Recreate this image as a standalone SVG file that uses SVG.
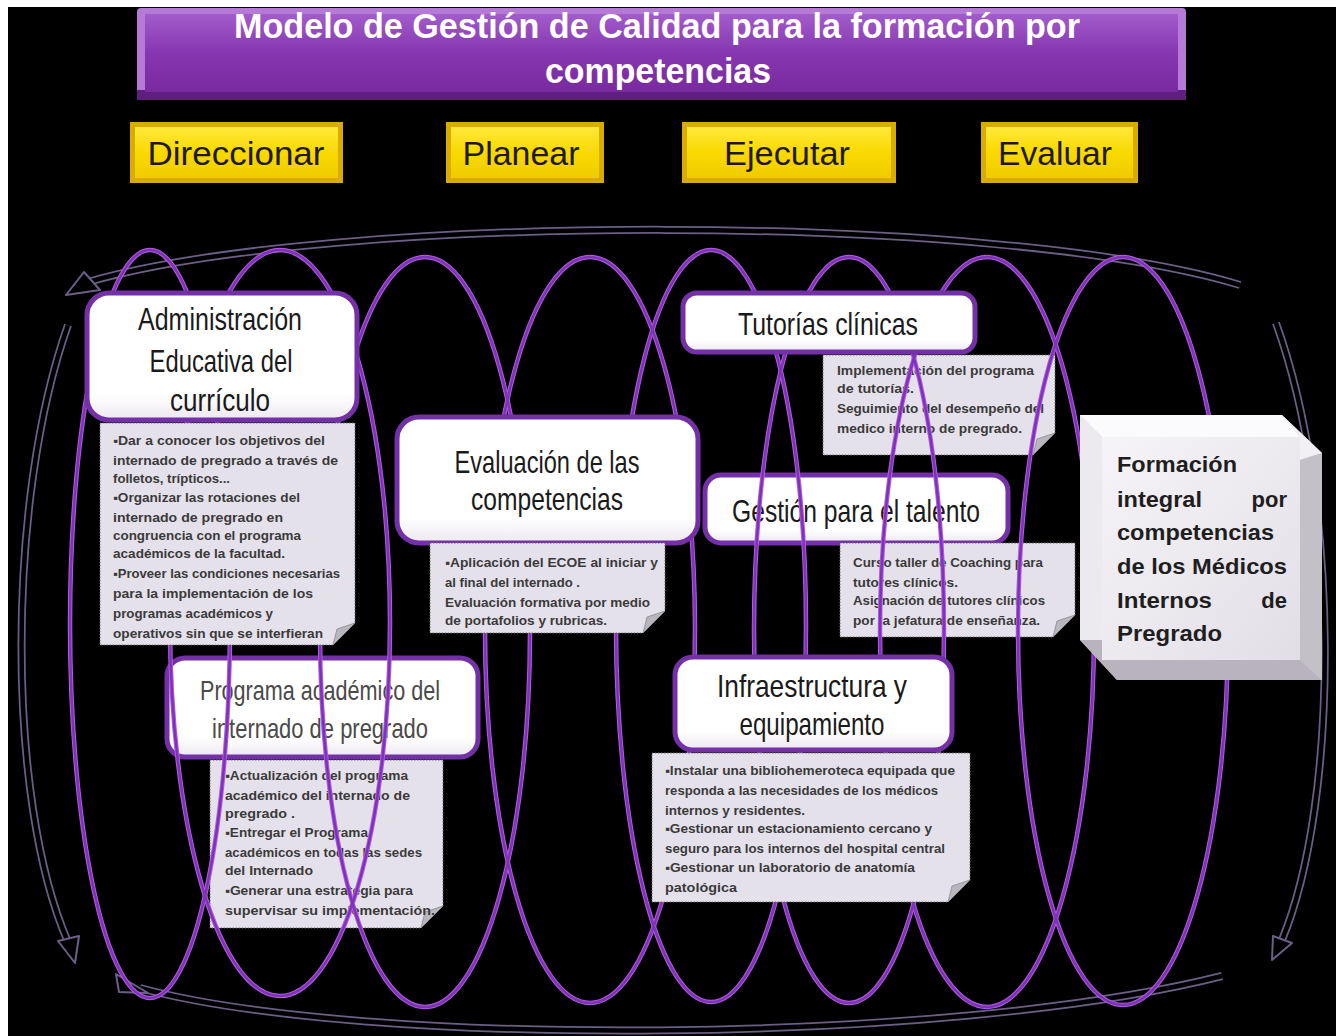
<svg xmlns="http://www.w3.org/2000/svg" width="1336" height="1036" viewBox="0 0 1336 1036">
<style>
.ttl{font-family:'Liberation Sans',Arial,sans-serif;font-weight:bold;fill:#ffffff;font-size:35px}
.btn{font-family:'Liberation Sans',Arial,sans-serif;font-size:34px;fill:#1e1a10}
.box{fill:url(#boxg);stroke:#7430a6;stroke-width:5}
.nt{font-family:'Liberation Sans Narrow','Liberation Sans',Arial,sans-serif;font-size:32px;fill:#1a1a1a;text-anchor:middle}
.ntl{font-family:'Liberation Sans Narrow','Liberation Sans',Arial,sans-serif;font-size:28px;fill:#4a4a4a;text-anchor:middle}
.note{fill:#e5e1eb;stroke:#6a6a6a;stroke-width:1;stroke-dasharray:1.5 1.5}
.fold{fill:#b9b5be;stroke:#8a8a8a;stroke-width:0.8}
.tx{font-family:'Liberation Sans',Arial,sans-serif;font-size:12.5px;font-weight:bold;fill:#3a3a3a}
.ellg{fill:none;stroke:#b45ae6;stroke-width:4.5}
.ell{fill:none;stroke:#7d34b4;stroke-width:2.5}
.bandO{fill:none;stroke:#6b5f85;stroke-width:8}
.bandI{fill:none;stroke:#000000;stroke-width:4.5}
.head{fill:#000000;stroke:#6b5f85;stroke-width:2;stroke-linejoin:round}
.fm{font-family:'Liberation Sans',Arial,sans-serif;font-size:22px;font-weight:bold;fill:#1e1e1e}
</style>
<defs>
<linearGradient id="titleg" x1="0" y1="0" x2="0" y2="1">
<stop offset="0" stop-color="#a25ccb"/><stop offset="0.5" stop-color="#8636b0"/><stop offset="1" stop-color="#7a2a9f"/>
</linearGradient>
<linearGradient id="ybg" x1="0" y1="0" x2="0" y2="1">
<stop offset="0" stop-color="#ffe93a"/><stop offset="0.5" stop-color="#f9d900"/><stop offset="1" stop-color="#f0cc00"/>
</linearGradient>
<linearGradient id="boxg" x1="0" y1="0" x2="0" y2="1">
<stop offset="0" stop-color="#ffffff"/><stop offset="0.8" stop-color="#ffffff"/><stop offset="1" stop-color="#ece8ef"/>
</linearGradient>
<linearGradient id="fmg" x1="0" y1="0" x2="1" y2="1">
<stop offset="0" stop-color="#f6f4f8"/><stop offset="1" stop-color="#e2dee6"/>
</linearGradient>
</defs>

<rect x="0" y="0" width="1336" height="1036" fill="#ffffff"/>
<rect x="8" y="7" width="1328" height="1029" fill="#000000"/>

<g id="title">
<rect x="137" y="8" width="1049" height="92" rx="4" fill="#b47ad6"/>
<rect x="137" y="90" width="1049" height="10" fill="#5e1f80"/>
<rect x="145" y="14" width="1033" height="78" fill="url(#titleg)"/>
<text class="ttl" x="657" y="38" text-anchor="middle" textLength="846" lengthAdjust="spacingAndGlyphs">Modelo de Gestión de Calidad para la formación por</text>
<text class="ttl" x="658" y="83" text-anchor="middle" textLength="226" lengthAdjust="spacingAndGlyphs">competencias</text>
</g>

<g id="btn-direccionar">
<rect x="130" y="122" width="213" height="61" fill="#d9ad00"/>
<rect x="135" y="127" width="203" height="51" fill="url(#ybg)"/>
<text class="btn" x="236" y="165" text-anchor="middle" textLength="177" lengthAdjust="spacingAndGlyphs">Direccionar</text>
</g>
<g id="btn-planear">
<rect x="446" y="122" width="158" height="61" fill="#d9ad00"/>
<rect x="451" y="127" width="148" height="51" fill="url(#ybg)"/>
<text class="btn" x="521" y="165" text-anchor="middle" textLength="117" lengthAdjust="spacingAndGlyphs">Planear</text>
</g>
<g id="btn-ejecutar">
<rect x="682" y="122" width="214" height="61" fill="#d9ad00"/>
<rect x="687" y="127" width="204" height="51" fill="url(#ybg)"/>
<text class="btn" x="787" y="165" text-anchor="middle" textLength="126" lengthAdjust="spacingAndGlyphs">Ejecutar</text>
</g>
<g id="btn-evaluar">
<rect x="981" y="122" width="157" height="61" fill="#d9ad00"/>
<rect x="986" y="127" width="147" height="51" fill="url(#ybg)"/>
<text class="btn" x="1055" y="165" text-anchor="middle" textLength="114" lengthAdjust="spacingAndGlyphs">Evaluar</text>
</g>

<!-- nodes behind the coil -->
<g id="node-programa">
<rect class="box" x="167" y="658" width="311" height="99" rx="18"/>
<text class="ntl" x="320" y="700" textLength="240" lengthAdjust="spacingAndGlyphs">Programa académico del</text>
<text class="ntl" x="320" y="738" textLength="216" lengthAdjust="spacingAndGlyphs">internado de pregrado</text>
</g>
<g id="note-programa">
<path class="note" d="M210 760 H443 V906 L421 928 H210 Z"/>
<path class="fold" d="M443 906 L421 928 L425 912 Z"/>
<text class="tx" x="225" y="780" textLength="183" lengthAdjust="spacingAndGlyphs">▪Actualización del programa</text>
<text class="tx" x="225" y="800" textLength="185" lengthAdjust="spacingAndGlyphs">académico  del internado de</text>
<text class="tx" x="225" y="818" textLength="70" lengthAdjust="spacingAndGlyphs">pregrado .</text>
<text class="tx" x="225" y="837" textLength="143" lengthAdjust="spacingAndGlyphs">▪Entregar el Programa</text>
<text class="tx" x="225" y="857" textLength="197" lengthAdjust="spacingAndGlyphs">académicos en todas las sedes</text>
<text class="tx" x="225" y="875" textLength="88" lengthAdjust="spacingAndGlyphs">del Internado</text>
<text class="tx" x="225" y="895" textLength="188" lengthAdjust="spacingAndGlyphs">▪Generar una estrategia para</text>
<text class="tx" x="225" y="915" textLength="210" lengthAdjust="spacingAndGlyphs">supervisar su implementación.</text>
</g>
<g id="node-gestion">
<rect class="box" x="705" y="475" width="303" height="68" rx="16"/>
<text class="nt" x="856" y="522" textLength="248" lengthAdjust="spacingAndGlyphs">Gestión para el talento</text>
</g>
<g id="note-gestion">
<path class="note" d="M840 543 H1075 V615 L1053 637 H840 Z"/>
<path class="fold" d="M1075 615 L1053 637 L1057 621 Z"/>
<text class="tx" x="853" y="567" textLength="190" lengthAdjust="spacingAndGlyphs">Curso taller de Coaching para</text>
<text class="tx" x="853" y="587" textLength="105" lengthAdjust="spacingAndGlyphs">tutores clínicos.</text>
<text class="tx" x="853" y="605" textLength="192" lengthAdjust="spacingAndGlyphs">Asignación de tutores clínicos</text>
<text class="tx" x="853" y="625" textLength="187" lengthAdjust="spacingAndGlyphs">por la jefatura de enseñanza.</text>
</g>
<g id="note-tutorias">
<path class="note" d="M823 355 H1055 V433 L1033 455 H823 Z"/>
<path class="fold" d="M1055 433 L1033 455 L1037 439 Z"/>
<text class="tx" x="837" y="375" textLength="197" lengthAdjust="spacingAndGlyphs">Implementación del programa</text>
<text class="tx" x="837" y="393" textLength="77" lengthAdjust="spacingAndGlyphs">de tutorías.</text>
<text class="tx" x="837" y="413" textLength="207" lengthAdjust="spacingAndGlyphs">Seguimiento del desempeño del</text>
<text class="tx" x="837" y="433" textLength="185" lengthAdjust="spacingAndGlyphs">medico interno de pregrado.</text>
</g>

<!-- connectors: cycle arrows and coil -->
<g id="connectors">
<path class="bandO" d="M1240 285 C1000 212 330 212 88 282"/>
<path class="bandI" d="M1240 285 C1000 212 330 212 88 282"/>
<polygon class="head" points="66,295 84,272 100,290"/>
<path class="bandO" d="M68 325 C6 500 6 800 68 942"/>
<path class="bandI" d="M68 325 C6 500 6 800 68 942"/>
<polygon class="head" points="75,963 58,941 79,936"/>
<path class="bandO" d="M1276 323 C1340 500 1340 800 1282 940"/>
<path class="bandI" d="M1276 323 C1340 500 1340 800 1282 940"/>
<polygon class="head" points="1272,960 1273,936 1292,943"/>
<path class="bandO" d="M1222 976 C950 1045 360 1048 140 988"/>
<path class="bandI" d="M1222 976 C950 1045 360 1048 140 988"/>
<polygon class="head" points="116,974 119,992 148,993"/>

<g class="coil">
<ellipse class="ellg" cx="150" cy="624" rx="80" ry="374"/>
<ellipse class="ellg" cx="280" cy="623" rx="110" ry="373"/>
<ellipse class="ellg" cx="425" cy="632" rx="105" ry="375"/>
<ellipse class="ellg" cx="590" cy="630" rx="105" ry="373"/>
<ellipse class="ellg" cx="711" cy="626" rx="95" ry="376"/>
<ellipse class="ellg" cx="849" cy="630" rx="95" ry="373"/>
<ellipse class="ellg" cx="987" cy="632" rx="107" ry="375"/>
<ellipse class="ellg" cx="1123" cy="631" rx="105" ry="374"/>
<ellipse class="ell" cx="150" cy="624" rx="80" ry="374"/>
<ellipse class="ell" cx="280" cy="623" rx="110" ry="373"/>
<ellipse class="ell" cx="425" cy="632" rx="105" ry="375"/>
<ellipse class="ell" cx="590" cy="630" rx="105" ry="373"/>
<ellipse class="ell" cx="711" cy="626" rx="95" ry="376"/>
<ellipse class="ell" cx="849" cy="630" rx="95" ry="373"/>
<ellipse class="ell" cx="987" cy="632" rx="107" ry="375"/>
<ellipse class="ell" cx="1123" cy="631" rx="105" ry="374"/>
</g>
</g>

<!-- nodes in front of the coil -->
<g id="node-administracion">
<rect class="box" x="87" y="293" width="270" height="127" rx="22"/>
<text class="nt" x="220" y="330" textLength="164" lengthAdjust="spacingAndGlyphs">Administración</text>
<text class="nt" x="221" y="372" textLength="143" lengthAdjust="spacingAndGlyphs">Educativa del</text>
<text class="nt" x="220" y="411" textLength="100" lengthAdjust="spacingAndGlyphs">currículo</text>
</g>
<g id="note-administracion">
<path class="note" d="M100 423 H355 V623 L333 645 H100 Z"/>
<path class="fold" d="M355 623 L333 645 L337 629 Z"/>
<text class="tx" x="113" y="445" textLength="212" lengthAdjust="spacingAndGlyphs">▪Dar a  conocer los objetivos del</text>
<text class="tx" x="113" y="465" textLength="225" lengthAdjust="spacingAndGlyphs">internado de pregrado  a través de</text>
<text class="tx" x="113" y="483" textLength="117" lengthAdjust="spacingAndGlyphs">folletos, trípticos...</text>
<text class="tx" x="113" y="502" textLength="187" lengthAdjust="spacingAndGlyphs">▪Organizar las rotaciones del</text>
<text class="tx" x="113" y="522" textLength="170" lengthAdjust="spacingAndGlyphs">internado de pregrado  en</text>
<text class="tx" x="113" y="540" textLength="188" lengthAdjust="spacingAndGlyphs">congruencia con el programa</text>
<text class="tx" x="113" y="558" textLength="172" lengthAdjust="spacingAndGlyphs">académicos de la facultad.</text>
<text class="tx" x="113" y="578" textLength="227" lengthAdjust="spacingAndGlyphs">▪Proveer las condiciones necesarias</text>
<text class="tx" x="113" y="598" textLength="200" lengthAdjust="spacingAndGlyphs">para  la implementación de los</text>
<text class="tx" x="113" y="618" textLength="160" lengthAdjust="spacingAndGlyphs">programas académicos y</text>
<text class="tx" x="113" y="638" textLength="210" lengthAdjust="spacingAndGlyphs">operativos sin que se interfieran</text>
</g>
<g id="node-evaluacion">
<rect class="box" x="397" y="417" width="301" height="126" rx="22"/>
<text class="nt" x="547" y="473" textLength="185" lengthAdjust="spacingAndGlyphs">Evaluación de las</text>
<text class="nt" x="547" y="510" textLength="152" lengthAdjust="spacingAndGlyphs">competencias</text>
</g>
<g id="note-evaluacion">
<path class="note" d="M430 543 H665 V611 L643 633 H430 Z"/>
<path class="fold" d="M665 611 L643 633 L647 617 Z"/>
<text class="tx" x="445" y="567" textLength="213" lengthAdjust="spacingAndGlyphs">▪Aplicación del ECOE  al iniciar y</text>
<text class="tx" x="445" y="587" textLength="135" lengthAdjust="spacingAndGlyphs">al final del internado .</text>
<text class="tx" x="445" y="607" textLength="205" lengthAdjust="spacingAndGlyphs">Evaluación formativa por medio</text>
<text class="tx" x="445" y="625" textLength="162" lengthAdjust="spacingAndGlyphs">de portafolios y rubricas.</text>
</g>
<g id="node-tutorias">
<rect class="box" x="683" y="293" width="292" height="59" rx="14"/>
<text class="nt" x="828" y="335" textLength="180" lengthAdjust="spacingAndGlyphs">Tutorías clínicas</text>
</g>
<g id="node-infraestructura">
<rect class="box" x="675" y="657" width="277" height="93" rx="18"/>
<text class="nt" x="812" y="697" textLength="190" lengthAdjust="spacingAndGlyphs">Infraestructura y</text>
<text class="nt" x="812" y="735" textLength="145" lengthAdjust="spacingAndGlyphs">equipamiento</text>
</g>
<g id="note-infraestructura">
<path class="note" d="M652 753 H970 V880 L948 902 H652 Z"/>
<path class="fold" d="M970 880 L948 902 L952 886 Z"/>
<text class="tx" x="665" y="775" textLength="290" lengthAdjust="spacingAndGlyphs">▪Instalar una bibliohemeroteca equipada  que</text>
<text class="tx" x="665" y="795" textLength="273" lengthAdjust="spacingAndGlyphs">responda a las necesidades de los médicos</text>
<text class="tx" x="665" y="815" textLength="140" lengthAdjust="spacingAndGlyphs">internos y residentes.</text>
<text class="tx" x="665" y="833" textLength="267" lengthAdjust="spacingAndGlyphs">▪Gestionar un estacionamiento cercano y</text>
<text class="tx" x="665" y="853" textLength="280" lengthAdjust="spacingAndGlyphs">seguro para los internos del hospital central</text>
<text class="tx" x="665" y="872" textLength="250" lengthAdjust="spacingAndGlyphs">▪Gestionar un laboratorio de anatomía</text>
<text class="tx" x="665" y="892" textLength="72" lengthAdjust="spacingAndGlyphs">patológica</text>
</g>
<g id="node-formacion">
<polygon points="1080,415 1282,415 1322,453 1322,680 1117,680 1080,640" fill="#d6d2da"/>
<polygon points="1080,415 1282,415 1300,437 1102,437" fill="#fbfafc"/>
<polygon points="1080,415 1102,437 1102,640 1080,640" fill="#eceaee"/>
<polygon points="1282,415 1322,453 1300,460 1300,437" fill="#f2f0f4"/>
<polygon points="1300,460 1322,453 1322,680 1300,660" fill="#c4c0c8"/>
<polygon points="1080,640 1102,640 1102,660 1300,660 1322,680 1117,680" fill="#b8b3bd"/>
<rect x="1102" y="437" width="198" height="223" fill="url(#fmg)"/>
<text class="fm" x="1117" y="472" textLength="120" lengthAdjust="spacingAndGlyphs">Formación</text>
<text class="fm" x="1117" y="507" textLength="85" lengthAdjust="spacingAndGlyphs">integral</text>
<text class="fm" x="1287" y="507" text-anchor="end">por</text>
<text class="fm" x="1117" y="540" textLength="157" lengthAdjust="spacingAndGlyphs">competencias</text>
<text class="fm" x="1117" y="574" textLength="170" lengthAdjust="spacingAndGlyphs">de los Médicos</text>
<text class="fm" x="1117" y="608" textLength="95" lengthAdjust="spacingAndGlyphs">Internos</text>
<text class="fm" x="1287" y="608" text-anchor="end">de</text>
<text class="fm" x="1117" y="641" textLength="105" lengthAdjust="spacingAndGlyphs">Pregrado</text>
</g>
</svg>
